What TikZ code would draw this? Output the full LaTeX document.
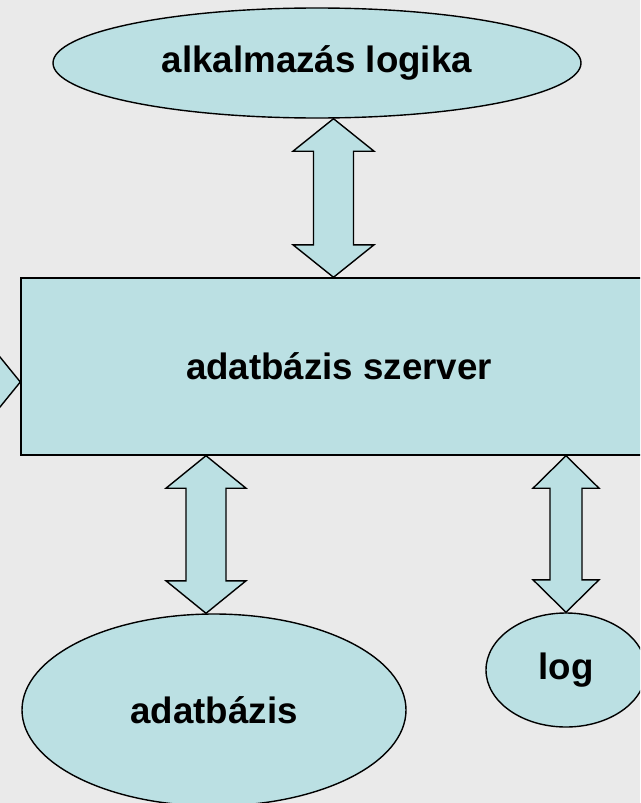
\documentclass[tikz,border=0pt]{standalone}
\usepackage{fontspec}
\setmainfont{Liberation Sans}
\usetikzlibrary{shapes.geometric,calc}
\definecolor{boxfill}{RGB}{187,224,227}
\definecolor{slidebg}{RGB}{234,234,234}

% vertical fat double arrow: x, upper anchor, lower anchor, head half width, shaft half width
\newcommand{\fatarrow}[5]{%
  \draw[fatarrow] let \p3=(#1,0), \p1=(#2), \p2=(#3) in
    (\x3,\y1) -- (\x3+#4pt,\y1-32.5pt) -- (\x3+#5pt,\y1-32.5pt) -- (\x3+#5pt,\y2+32.5pt)
    -- (\x3+#4pt,\y2+32.5pt) -- (\x3,\y2) -- (\x3-#4pt,\y2+32.5pt) -- (\x3-#5pt,\y2+32.5pt)
    -- (\x3-#5pt,\y1-32.5pt) -- (\x3-#4pt,\y1-32.5pt) -- cycle;}

\begin{document}
\begin{tikzpicture}
        [x=1pt, y=-1pt,
        blob/.style={ellipse, draw, line width=1.4pt, fill=boxfill, inner sep=0pt,
                     font=\fontsize{36.7}{44}\selectfont\bfseries},
        box/.style={rectangle, draw, line width=1.4pt, fill=boxfill, inner sep=0pt,
                    font=\fontsize{36.7}{44}\selectfont\bfseries},
        fatarrow/.style={draw, line width=1.4pt, fill=boxfill, line join=miter}]
        \useasboundingbox (0,0) rectangle (640,803);
        \clip (0,0) rectangle (640,803);
        \fill[slidebg] (0,0) rectangle (640,803);

        \node[blob, minimum width=528pt, minimum height=110pt] (logic) at (317,63) {alkalmazás logika};
        \node[box, minimum width=636pt, minimum height=177pt] (server) at (339,366.5) {adatbázis szerver};
        \node[blob, minimum width=384pt, minimum height=192pt] (db) at (214,710) {adatbázis};
        \node[blob, minimum width=160pt, minimum height=114pt] (log) at (566,670) {log};
        \coordinate (client) at (-140,382);

        \fatarrow{333.5}{logic.south}{server.north}{40.5}{20}
        \fatarrow{206}{server.south}{db.north}{40}{20}
        \fatarrow{566}{server.south}{log.north}{33}{16}
        % left one, mostly outside the slide
        \draw[fatarrow] let \p1=(client), \p2=(server.west) in
            (\x2,\y1) -- (\x2-32.5pt,\y1+40pt) -- (\x2-32.5pt,\y1+20pt) -- (\x1+32.5pt,\y1+20pt)
            -- (\x1+32.5pt,\y1+40pt) -- (\x1,\y1) -- (\x1+32.5pt,\y1-40pt) -- (\x1+32.5pt,\y1-20pt)
            -- (\x2-32.5pt,\y1-20pt) -- (\x2-32.5pt,\y1-40pt) -- cycle;
    \end{tikzpicture}
\end{document}
